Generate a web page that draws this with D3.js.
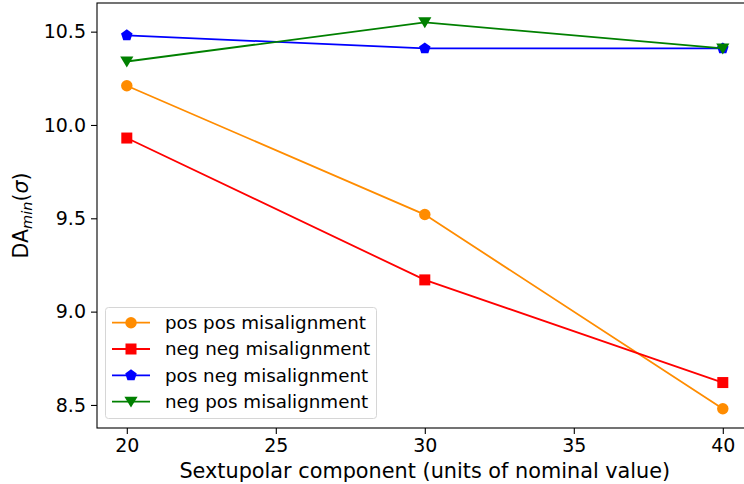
<!DOCTYPE html>
<html>
<head>
<meta charset="utf-8">
<script src="https://cdn.jsdelivr.net/npm/d3@7"></script>
<style>
  body { margin: 0; background: #fff; }
  svg { display: block; font-family: "DejaVu Sans", sans-serif; }
</style>
</head>
<body>
<svg id="chart" width="744" height="484"></svg>
<script>
// Data
const sextupole = [20, 30, 40];
const posPos = [10.21, 9.52, 8.48];
const negNeg = [9.93, 9.17, 8.62];
const posNeg = [10.48, 10.41, 10.41];
const negPos = [10.34, 10.55, 10.41];
const xTicks = [20, 25, 30, 35, 40];
const yTicks = [8.5, 9.0, 9.5, 10.0, 10.5];

const series = [
  { name: 'pos pos misalignment', values: posPos, color: '#ff8c00', marker: 'circle' },
  { name: 'neg neg misalignment', values: negNeg, color: '#ff0000', marker: 'square' },
  { name: 'pos neg misalignment', values: posNeg, color: '#0000ff', marker: 'pentagon' },
  { name: 'neg pos misalignment', values: negPos, color: '#008000', marker: 'triangle' }
];

const svg = d3.select('#chart');
const mLeft = 97, mTop = 3, mBottom = 428;

// matplotlib style 5% margins
const xExt = d3.extent(sextupole);
const xPad = (xExt[1] - xExt[0]) * 0.05;
const allY = series.flatMap(s => s.values);
const yExt = d3.extent(allY);
const yPad = (yExt[1] - yExt[0]) * 0.05;

const x = d3.scaleLinear()
  .domain([xExt[0] - xPad, xExt[1] + xPad])
  .range([mLeft, mLeft + 655.6]);
const y = d3.scaleLinear()
  .domain([yExt[0] - yPad, yExt[1] + yPad])
  .range([mBottom, mTop]);

// Axes
const xAxis = svg.append('g')
  .attr('transform', `translate(0,${mBottom})`)
  .call(d3.axisBottom(x).tickValues(xTicks).tickFormat(d3.format('d')).tickSize(6).tickPadding(5));
const yAxis = svg.append('g')
  .attr('transform', `translate(${mLeft},0)`)
  .call(d3.axisLeft(y).tickValues(yTicks).tickFormat(d3.format('.1f')).tickSize(6).tickPadding(5));

[xAxis, yAxis].forEach(a => {
  a.select('.domain').remove();
  a.selectAll('.tick line').attr('stroke', '#000').attr('stroke-width', 1.1);
  a.selectAll('.tick text').attr('fill', '#000').style('font-size', '19px')
    .style('font-family', '"DejaVu Sans", sans-serif');
});

// Frame
svg.append('rect')
  .attr('x', mLeft).attr('y', mTop)
  .attr('width', x.range()[1] - mLeft).attr('height', mBottom - mTop)
  .attr('fill', 'none').attr('stroke', '#000').attr('stroke-width', 1.1);

// Markers
function drawMarker(sel, type, color, size) {
  if (type === 'circle') {
    sel.append('circle').attr('r', size * 0.52).attr('fill', color);
  } else if (type === 'square') {
    sel.append('rect').attr('x', -size / 2).attr('y', -size / 2)
      .attr('width', size).attr('height', size).attr('fill', color);
  } else if (type === 'pentagon') {
    const r = size * 0.55;
    const pts = d3.range(5).map(i => {
      const a = -Math.PI / 2 + i * 2 * Math.PI / 5;
      return [r * Math.cos(a), r * Math.sin(a)];
    });
    sel.append('polygon').attr('points', pts.map(p => p.join(',')).join(' ')).attr('fill', color);
  } else if (type === 'triangle') {
    const r = size * 0.6;
    sel.append('polygon')
      .attr('points', `${-r},${-r * 0.75} ${r},${-r * 0.75} 0,${r * 0.9}`)
      .attr('fill', color);
  }
}

const line = d3.line().x((d, i) => x(sextupole[i])).y(d => y(d));

series.forEach(s => {
  svg.append('path')
    .datum(s.values)
    .attr('d', line)
    .attr('fill', 'none')
    .attr('stroke', s.color)
    .attr('stroke-width', 1.8);
  svg.append('g').selectAll('g')
    .data(s.values)
    .join('g')
    .attr('transform', (d, i) => `translate(${x(sextupole[i])},${y(d)})`)
    .each(function () { drawMarker(d3.select(this), s.marker, s.color, 11); });
});

// Legend
const legend = svg.append('g');
legend.append('rect')
  .attr('x', 105.5).attr('y', 307.5).attr('width', 271).attr('height', 111)
  .attr('rx', 3).attr('fill', '#fff').attr('fill-opacity', 0.8)
  .attr('stroke', '#d6d6d6').attr('stroke-width', 1);

series.forEach((s, i) => {
  const cy = 322.7 + i * 26.3;
  const row = legend.append('g');
  row.append('line')
    .attr('x1', 112).attr('x2', 150).attr('y1', cy).attr('y2', cy)
    .attr('stroke', s.color).attr('stroke-width', 1.8);
  const m = row.append('g').attr('transform', `translate(131,${cy})`);
  drawMarker(m, s.marker, s.color, 11);
  row.append('text')
    .attr('x', 165).attr('y', cy).attr('dy', '0.35em')
    .style('font-size', '18.3px').attr('fill', '#000')
    .text(s.name);
});

// Axis labels
svg.append('text')
  .attr('x', (mLeft + x.range()[1]) / 2).attr('y', 478)
  .attr('text-anchor', 'middle')
  .style('font-size', '20.8px')
  .text('Sextupolar component (units of nominal value)');

const yl = svg.append('text')
  .attr('transform', `translate(28,${(mTop + mBottom) / 2}) rotate(-90)`)
  .attr('text-anchor', 'middle')
  .style('font-size', '20.5px');
yl.append('tspan').text('DA');
yl.append('tspan').attr('dy', 4).style('font-size', '14.5px').style('font-style', 'italic').text('min');
yl.append('tspan').attr('dy', -4).text('(');
yl.append('tspan').style('font-style', 'italic').text('σ');
yl.append('tspan').text(')');
</script>
</body>
</html>
